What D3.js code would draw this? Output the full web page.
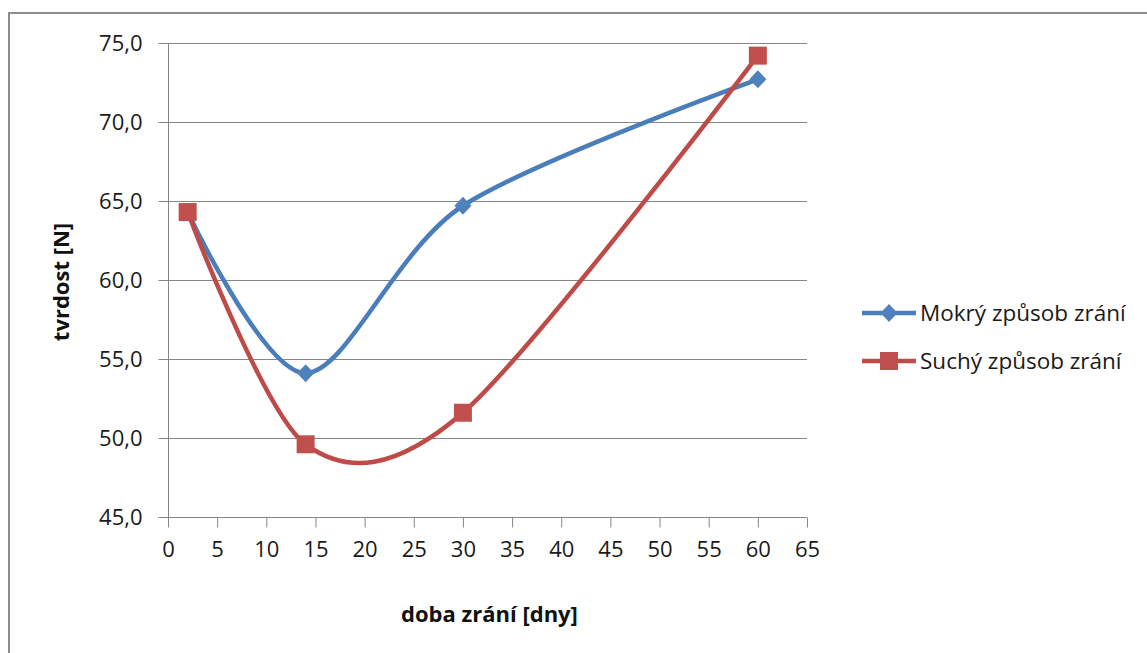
<!DOCTYPE html>
<html>
<head>
<meta charset="utf-8">
<script src="https://cdn.jsdelivr.net/npm/d3@7"></script>
<style>
  html, body { margin: 0; padding: 0; background: #fff; }
  svg { display: block; font-family: "Open Sans", "Noto Sans", sans-serif; }
</style>
</head>
<body>
<svg id="chart" width="1147" height="653"></svg>
<script>
// Ripening time (days) and firmness (N) for the two ripening methods
const days = [2, 14, 30, 60];
const mokry = [64.3, 54.1, 64.7, 72.7];
const suchy = [64.3, 49.6, 51.6, 74.2];
const seriesNames = ["Mokrý způsob zrání", "Suchý způsob zrání"];
const xTicks = [0, 5, 10, 15, 20, 25, 30, 35, 40, 45, 50, 55, 60, 65];
const yTicks = [45, 50, 55, 60, 65, 70, 75];
const xTitle = "doba zrání [dny]";
const yTitle = "tvrdost [N]";

const svg = d3.select("#chart");
const W = 1147, H = 653;
const plot = { left: 168, right: 807, top: 43, bottom: 517 };

const gridColor = "#868686";
const blue = "#4A7EBB", blueMarker = "#4F81BD";
const red = "#BE4B48", redMarker = "#C0504D";

// chart frame
svg.append("rect")
  .attr("x", 9).attr("y", 13)
  .attr("width", W + 20).attr("height", H + 20)
  .attr("fill", "#fff").attr("stroke", "#8c8c8c").attr("stroke-width", 2);

const x = d3.scaleLinear().domain([0, 65]).range([plot.left, plot.right]);
const y = d3.scaleLinear().domain([45, 75]).range([plot.bottom, plot.top]);

// horizontal gridlines
svg.append("g")
  .selectAll("line")
  .data(yTicks.filter(v => v !== 45))
  .join("line")
  .attr("x1", plot.left).attr("x2", plot.right)
  .attr("y1", d => Math.round(y(d)) + 0.5).attr("y2", d => Math.round(y(d)) + 0.5)
  .attr("stroke", gridColor).attr("stroke-width", 1);

// y axis
const yAxis = svg.append("g")
  .attr("transform", `translate(${plot.left + 0.5},0)`)
  .call(d3.axisLeft(y).tickValues(yTicks)
    .tickFormat(d => d3.format(".1f")(d).replace(".", ","))
    .tickSize(10).tickPadding(16));
yAxis.select(".domain").attr("stroke", gridColor).attr("d", `M0,${plot.top}V${plot.bottom}`);
yAxis.selectAll(".tick line").attr("stroke", gridColor);
yAxis.selectAll(".tick text")
  .attr("fill", "#1a1a1a").style("font-size", "22px")
  .style("font-family", "'Open Sans', sans-serif");

// x axis
const xAxis = svg.append("g")
  .attr("transform", `translate(0,${plot.bottom + 0.5})`)
  .call(d3.axisBottom(x).tickValues(xTicks).tickSize(10).tickPadding(14));
xAxis.select(".domain").attr("stroke", gridColor).attr("d", `M${plot.left},0H${plot.right}`);
xAxis.selectAll(".tick line").attr("stroke", gridColor);
xAxis.selectAll(".tick text")
  .attr("fill", "#1a1a1a").style("font-size", "22px")
  .style("font-family", "'Open Sans', sans-serif");

// axis titles
svg.append("text")
  .attr("x", (plot.left + plot.right) / 2 + 2).attr("y", 622)
  .attr("text-anchor", "middle")
  .style("font-size", "22px").style("font-weight", "bold").attr("fill", "#111")
  .text(xTitle);

svg.append("text")
  .attr("transform", `translate(69,${(plot.top + plot.bottom) / 2 + 2}) rotate(-90)`)
  .attr("text-anchor", "middle")
  .style("font-size", "22px").style("font-weight", "bold").attr("fill", "#111")
  .text(yTitle);

// smoothed series lines
const line = d3.line()
  .x(d => x(d[0])).y(d => y(d[1]))
  .curve(d3.curveCardinal.tension(0.1));

const series = [
  { name: seriesNames[0], values: mokry, color: blue, marker: blueMarker, shape: "diamond" },
  { name: seriesNames[1], values: suchy, color: red, marker: redMarker, shape: "square" }
];

const diamond = "M0,-9L8.5,0L0,9L-8.5,0Z";
const square = "M-9,-9H9V9H-9Z";

series.forEach(s => {
  const pts = days.map((d, i) => [d, s.values[i]]);
  svg.append("path")
    .datum(pts)
    .attr("d", line)
    .attr("fill", "none")
    .attr("stroke", s.color)
    .attr("stroke-width", 4.5)
    .attr("stroke-linejoin", "round")
    .attr("stroke-linecap", "round");
});

series.forEach(s => {
  const pts = days.map((d, i) => [d, s.values[i]]);
  svg.append("g")
    .selectAll("path")
    .data(pts)
    .join("path")
    .attr("transform", d => `translate(${x(d[0])},${y(d[1])})`)
    .attr("d", s.shape === "diamond" ? diamond : square)
    .attr("fill", s.marker);
});

// legend
const legend = svg.append("g");
series.forEach((s, i) => {
  const ly = 313 + i * 48;
  legend.append("line")
    .attr("x1", 862).attr("x2", 916)
    .attr("y1", ly).attr("y2", ly)
    .attr("stroke", s.color).attr("stroke-width", 4.5);
  legend.append("path")
    .attr("transform", `translate(889,${ly})`)
    .attr("d", s.shape === "diamond" ? diamond : square)
    .attr("fill", s.marker);
  legend.append("text")
    .attr("x", 920).attr("y", ly)
    .attr("dy", "0.36em")
    .style("font-size", "22.5px").attr("fill", "#1a1a1a")
    .text(s.name);
});
</script>
</body>
</html>
